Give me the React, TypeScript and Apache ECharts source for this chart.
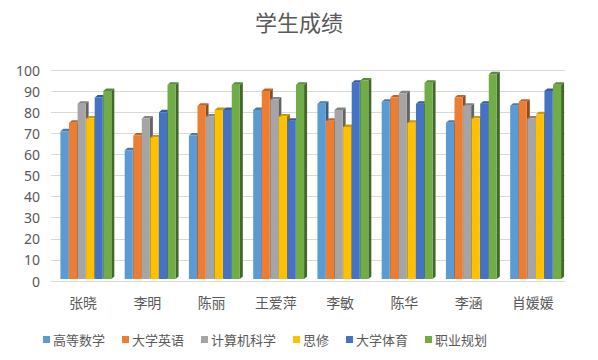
import React, { useEffect, useRef } from "react";
import * as echarts from "echarts";

const students = ["张晓", "李明", "陈丽", "王爱萍", "李敏", "陈华", "李涵", "肖媛媛"];
const subjects = ["高等数学", "大学英语", "计算机科学", "思修", "大学体育", "职业规划"];
const colors = ["#5B9BD5", "#ED7D31", "#A5A5A5", "#FFC000", "#4472C4", "#70AD47"];

const mathScores = [71, 62, 69, 81, 84, 85, 75, 83];
const englishScores = [75, 69, 83, 90, 76, 87, 87, 85];
const csScores = [84, 77, 78, 86, 81, 89, 83, 77];
const ethicsScores = [77, 68, 81, 78, 73, 75, 77, 79];
const peScores = [87, 80, 81, 76, 94, 84, 84, 90];
const careerScores = [90, 93, 93, 93, 95, 94, 98, 93];

const seriesValues = [mathScores, englishScores, csScores, ethicsScores, peScores, careerScores];

function shade(hex: string, f: number) {
  const n = parseInt(hex.slice(1), 16);
  const r = Math.round(((n >> 16) & 255) * f);
  const g = Math.round(((n >> 8) & 255) * f);
  const b = Math.round((n & 255) * f);
  return `rgb(${Math.min(255, r)},${Math.min(255, g)},${Math.min(255, b)})`;
}

export default function App() {
  const ref = useRef<HTMLDivElement>(null);
  useEffect(() => {
    if (!ref.current) return;
    const chart = echarts.init(ref.current, null, { renderer: "svg" });
    const n = subjects.length;
    const depth = 5;
    const series = subjects.map((name, si) => ({
      name,
      type: "custom",
      itemStyle: { color: colors[si] },
      data: seriesValues[si].map((v, ci) => [ci, v]),
      renderItem: (params: any, api: any) => {
        const ci = api.value(0);
        const v = api.value(1);
        const top = api.coord([ci, v]);
        const base = api.coord([ci, 0]);
        const catW = api.size([1, 0])[0];
        const groupW = catW * 0.8;
        const bw = groupW / n;
        const x0 = top[0] + 3 - groupW / 2 + si * bw;
        const x1 = x0 + bw - 0.5;
        const y0 = top[1];
        const y1 = base[1] - 2;
        const c = colors[si];
        const dx = depth * 0.6;
        const dy = depth * 0.5;
        return {
          type: "group",
          children: [
            {
              type: "polygon",
              shape: { points: [[x1, y0], [x1 + dx, y0 - dy], [x1 + dx, y1 - dy], [x1, y1]] },
              style: { fill: shade(c, 0.6) },
            },
            {
              type: "polygon",
              shape: { points: [[x0, y0], [x0 + dx, y0 - dy], [x1 + dx, y0 - dy], [x1, y0]] },
              style: { fill: shade(c, 0.8) },
            },
            {
              type: "rect",
              shape: { x: x0, y: y0, width: x1 - x0, height: y1 - y0 },
              style: { fill: c },
            },
          ],
        };
      },
    }));
    chart.setOption({
      animation: false,
      title: {
        text: "学生成绩",
        left: "center",
        top: 5,
        textStyle: { color: "#595959", fontSize: 22, fontWeight: "normal", fontFamily: "Noto Sans CJK SC" },
      },
      legend: {
        data: subjects.map((s) => ({ name: s, icon: "rect" })),
        left: 38,
        top: 328,
        itemWidth: 7,
        itemHeight: 7,
        itemGap: 17,
        textStyle: { color: "#595959", fontSize: 13, fontFamily: "Noto Sans CJK SC", padding: [0, 0, 0, -2] },
      },
      grid: { left: 51, right: 33, top: 70, bottom: 79 },
      xAxis: {
        type: "category",
        data: students,
        axisLine: { show: true, lineStyle: { color: "#d9d9d9" } },
        axisTick: { show: false },
        axisLabel: { color: "#595959", fontSize: 14, margin: 14, fontFamily: "Noto Sans CJK SC" },
      },
      yAxis: {
        type: "value",
        min: 0,
        max: 100,
        interval: 10,
        axisLine: { show: false },
        axisTick: { show: false },
        splitLine: { lineStyle: { color: "#d9d9d9" } },
        axisLabel: { color: "#595959", fontSize: 14, margin: 11, fontFamily: "Noto Sans" },
      },
      series,
    } as any);
    return () => chart.dispose();
  }, []);
  return <div ref={ref} style={{ width: 598, height: 360, margin: -8 }} />;
}
